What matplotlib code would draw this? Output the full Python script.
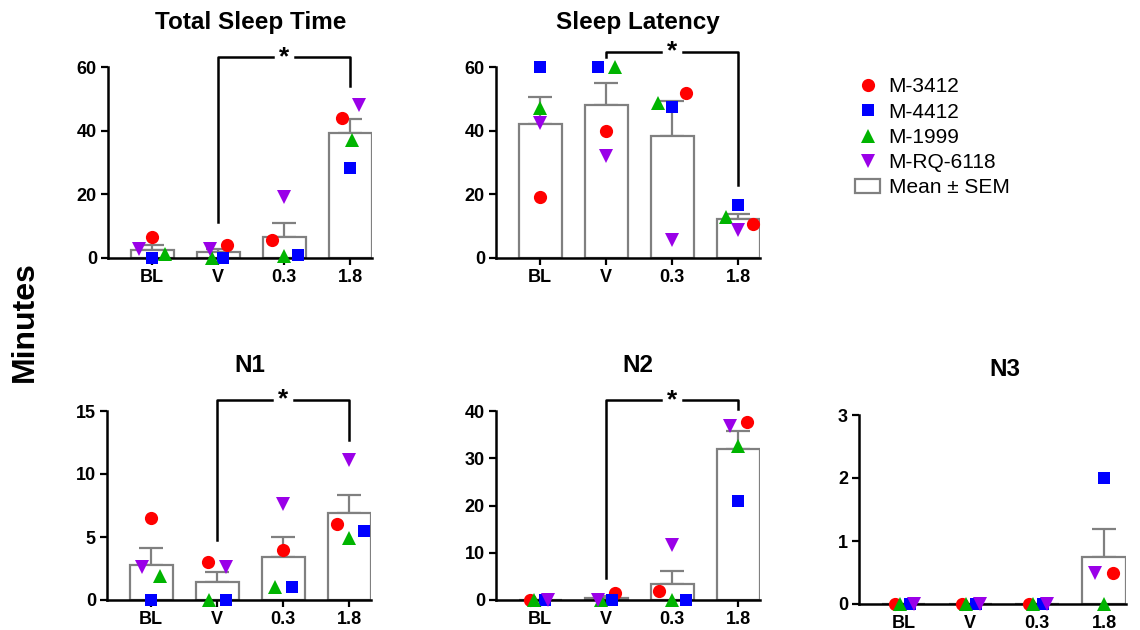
import matplotlib
matplotlib.use("Agg")
import matplotlib.pyplot as plt
from matplotlib.lines import Line2D
from matplotlib.patches import Patch
import numpy as np

plt.rcParams['font.family'] = ['Liberation Sans', 'DejaVu Sans']

# data (minutes), per panel: rows = groups, columns = subjects
groups = ["BL", "V", "0.3", "1.8"]
subjects = ["M-3412", "M-4412", "M-1999", "M-RQ-6118"]

tst = [[6.5, 0.0, 1.2, 2.8],
       [4.2, 0.0, 0.0, 2.8],
       [5.8, 0.8, 0.5, 19.3],
       [44.0, 28.2, 37.2, 48.2]]
latency = [[19.3, 60.0, 47.2, 42.4],
           [39.8, 60.0, 60.0, 32.1],
           [51.9, 47.5, 48.7, 5.8],
           [10.8, 16.6, 12.9, 8.7]]
n1 = [[6.5, 0.0, 1.9, 2.6],
      [3.0, 0.0, 0.0, 2.6],
      [4.0, 1.0, 1.0, 7.6],
      [6.0, 5.5, 4.9, 11.1]]
n2 = [[0.0, 0.0, 0.0, 0.0],
      [1.5, 0.0, 0.0, 0.0],
      [1.9, 0.0, 0.0, 11.6],
      [37.6, 21.0, 32.5, 36.8]]
n3 = [[0.0, 0.0, 0.0, 0.0],
      [0.0, 0.0, 0.0, 0.0],
      [0.0, 0.0, 0.0, 0.0],
      [0.5, 2.0, 0.0, 0.5]]

# horizontal spread of the points (layout only)
jit_tst = [[0, 0, 0.2, -0.2], [0.13, 0.08, -0.09, -0.13], [-0.19, 0.21, 0, 0], [-0.12, 0, 0.02, 0.14]]
jit_lat = [[0, 0, 0, 0], [0, -0.13, 0.14, 0], [0.21, 0, -0.21, 0], [0.22, 0, -0.19, 0]]
jit_n1 = [[0, 0, 0.14, -0.14], [-0.14, 0.13, -0.13, 0.13], [0, 0.13, -0.13, 0], [-0.19, 0.22, 0, 0]]
jit_n2 = [[-0.15, 0.08, -0.09, 0.12], [0.14, 0.09, -0.07, -0.13], [-0.2, 0.21, 0, 0], [0.14, 0, 0, -0.13]]
jit_n3 = [[-0.125, 0.09, -0.06, 0.15]] * 3 + [[0.13, 0, 0, -0.13]]

colors = ["#ff0000", "#0000ff", "#00b400", "#9a00e8"]
markers = ["o", "s", "^", "v"]
msizes = [9.5, 8.5, 9.5, 9.5]
gray = "#808080"

fig = plt.figure(figsize=(11.4, 6.3), dpi=100)


def panel(rect, vals, jit, ymax, yticks):
    ax = fig.add_axes(rect)
    vals = np.array(vals)
    x = np.arange(len(groups))
    means = vals.mean(axis=1)
    sems = vals.std(axis=1, ddof=1) / np.sqrt(vals.shape[1])
    ax.bar(x, means, width=0.65, color="white", edgecolor=gray, linewidth=1.6, zorder=2)
    ax.errorbar(x, means, yerr=[np.zeros_like(sems), sems], fmt="none", ecolor=gray,
                elinewidth=1.6, capsize=8.5, capthick=1.6, zorder=1.5)
    for j in range(len(subjects)):
        xs = x + np.array(jit)[:, j]
        ax.plot(xs, vals[:, j], linestyle="none", marker=markers[j], color=colors[j],
                markersize=msizes[j], markeredgewidth=0, zorder=3, clip_on=False)
    ax.set_xlim(-0.667, 3.33)
    ax.set_ylim(0, ymax)
    ax.set_yticks(yticks)
    ax.set_xticks(x)
    ax.set_xticklabels(groups)
    for s in ["top", "right"]:
        ax.spines[s].set_visible(False)
    for s in ["left", "bottom"]:
        ax.spines[s].set_linewidth(1.8)
    ax.tick_params(width=1.6, length=5, labelsize=13, pad=3)
    for lab in ax.get_xticklabels() + ax.get_yticklabels():
        lab.set_fontweight("bold")
    return ax


def bracket(ax, ytop, yleft, yright, x0=1, x1=3, gap=0.17):
    kw = dict(color="black", linewidth=1.8, clip_on=False, zorder=4)
    mid = (x0 + x1) / 2
    ax.plot([x0, x0, mid - gap], [yleft, ytop, ytop], **kw)
    ax.plot([mid + gap, x1, x1], [ytop, ytop, yright], **kw)
    ax.text(mid, ytop, "*", ha="center", va="center", fontsize=19, fontweight="bold",
            clip_on=False)


W = 264 / 1140
a1 = panel([108 / 1140, 372 / 630, W, 191 / 630], tst, jit_tst, 60, [0, 20, 40, 60])
a2 = panel([496 / 1140, 372 / 630, W, 191 / 630], latency, jit_lat, 60, [0, 20, 40, 60])
a3 = panel([107 / 1140, 30 / 630, W, 189 / 630], n1, jit_n1, 15, [0, 5, 10, 15])
a4 = panel([496 / 1140, 30 / 630, W, 189 / 630], n2, jit_n2, 40, [0, 10, 20, 30, 40])
a5 = panel([859 / 1140, 26 / 630, 267 / 1140, 189 / 630], n3, jit_n3, 3, [0, 1, 2, 3])

bracket(a1, 63.2, 11.4, 54)
bracket(a2, 64.8, 63.0, 23)
bracket(a3, 15.9, 4.8, 12.7)
bracket(a4, 42.3, 4.6, 40.4)

tkw = dict(ha="center", va="center", fontsize=17.5, fontweight="bold")
fig.text(251 / 1140, 1 - 22 / 630, "Total Sleep Time", **tkw)
fig.text(638 / 1140, 1 - 22 / 630, "Sleep Latency", **tkw)
fig.text(250 / 1140, 1 - 365 / 630, "N1", **tkw)
fig.text(638 / 1140, 1 - 365 / 630, "N2", **tkw)
fig.text(1005 / 1140, 1 - 370 / 630, "N3", **tkw)

fig.text(25 / 1140, 1 - 322 / 630, "Minutes", rotation=90, ha="center", va="center",
         fontsize=23, fontweight="bold")

handles = [Line2D([], [], linestyle="none", marker=markers[j], color=colors[j],
                  markersize=msizes[j], markeredgewidth=0) for j in range(4)]
handles.append(Patch(facecolor="white", edgecolor=gray, linewidth=1.6))
labels = subjects + ["Mean \u00b1 SEM"]
fig.legend(handles, labels, loc="upper left", bbox_to_anchor=(847 / 1140, 1 - 69 / 630),
           frameon=False, fontsize=15, handlelength=1.2, handletextpad=0.4,
           labelspacing=0.3, borderaxespad=0)

fig.savefig("out.png", dpi=100)
